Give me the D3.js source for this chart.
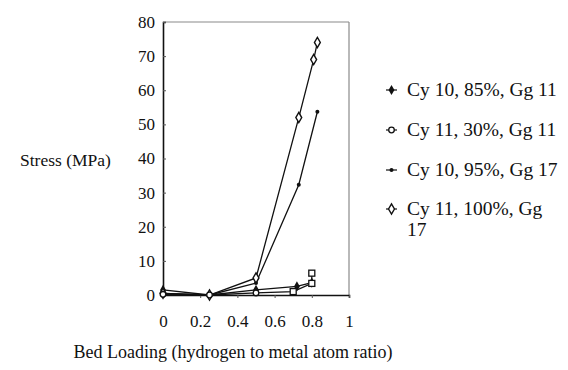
<!DOCTYPE html>
<html>
<head>
<meta charset="utf-8">
<script src="https://cdn.jsdelivr.net/npm/d3@7"></script>
<style>
  body { margin: 0; background: #fff; }
  text { font-family: "Liberation Serif", "DejaVu Serif", serif; fill: #111; }
</style>
</head>
<body>
<div class="chart"></div>
<script>
'use strict';

// values
const seriesNames = ["Cy 10, 85%, Gg 11", "Cy 11, 30%, Gg 11", "Cy 10, 95%, Gg 17", "Cy 11, 100%, Gg 17"];
const cy10_85 = [[0, 1.5], [0.25, 0], [0.5, 1.5], [0.72, 2.5], [0.80, 3.6]];
const cy11_30 = [[0, 0.2], [0.25, 0], [0.5, 0.6], [0.70, 1.0], [0.80, 3.4], [0.80, 6.4]];
const cy10_95 = [[0, 0.5], [0.25, 0], [0.5, 3.5], [0.73, 32.3], [0.83, 53.7]];
const cy11_100 = [[0, 0.5], [0.25, 0], [0.5, 5], [0.73, 52], [0.81, 69], [0.83, 74]];
const xTicks = [0, 0.2, 0.4, 0.6, 0.8, 1];
const yTicks = [0, 10, 20, 30, 40, 50, 60, 70, 80];

(function() {
    const serif = '"Liberation Serif", "DejaVu Serif", serif';
    let svg = d3.select('.chart').append('svg')
        .attr('width', 568).attr('height', 370);

    let xScale = d3.scaleLinear().domain([0, 1]).range([163, 349]);
    let yScale = d3.scaleLinear().domain([0, 80]).range([295, 22]);

    // plot frame: grey top/right, black axes
    svg.append('line')
        .attr('x1', xScale(0)).attr('x2', xScale(1))
        .attr('y1', yScale(80)).attr('y2', yScale(80))
        .attr('stroke', '#8a8a8a').attr('stroke-width', 1.2);
    svg.append('line')
        .attr('x1', xScale(1)).attr('x2', xScale(1))
        .attr('y1', yScale(80)).attr('y2', yScale(0))
        .attr('stroke', '#8a8a8a').attr('stroke-width', 1.2);

    let xAxis = d3.axisBottom(xScale).tickValues(xTicks).tickSize(3).tickFormat(d3.format('~g'));
    let gx = svg.append('g').attr('transform', 'translate(0,' + yScale(0) + ')').call(xAxis);
    let yAxis = d3.axisLeft(yScale).tickValues(yTicks).tickSize(-3).tickFormat(d3.format('d'));
    let gy = svg.append('g').attr('transform', 'translate(' + xScale(0) + ',0)').call(yAxis);

    [gx, gy].forEach(g => {
        g.attr('font-family', serif).attr('font-size', 17);
        g.select('.domain').attr('stroke', '#111').attr('stroke-width', 1.6);
        g.selectAll('.tick line').attr('stroke', '#555');
        g.selectAll('.tick text').attr('fill', '#111');
    });
    gx.selectAll('.tick text').attr('dy', '1.55em');
    gy.selectAll('.tick text').attr('x', -8);

    let line = d3.line().x(d => xScale(d[0])).y(d => yScale(d[1]));
    let all = [cy10_85, cy11_30, cy10_95, cy11_100];
    all.forEach(s => {
        svg.append('path').attr('d', line(s))
            .attr('fill', 'none').attr('stroke', '#111').attr('stroke-width', 1.3);
    });

    function marker(g, kind, x, y) {
        if (kind === 0) {
            g.append('path').attr('d', d3.symbol(d3.symbolDiamond, 30)())
                .attr('transform', 'translate(' + x + ',' + y + ')').attr('fill', '#111');
        } else if (kind === 1) {
            g.append('circle').attr('cx', x).attr('cy', y).attr('r', 2.8)
                .attr('fill', '#fff').attr('stroke', '#111').attr('stroke-width', 1.3);
        } else if (kind === 'sq') {
            g.append('rect').attr('x', x - 3).attr('y', y - 3).attr('width', 6).attr('height', 6)
                .attr('fill', '#fff').attr('stroke', '#111').attr('stroke-width', 1.3);
        } else if (kind === 2) {
            g.append('circle').attr('cx', x).attr('cy', y).attr('r', 2).attr('fill', '#111');
        } else {
            g.append('path').attr('d', d3.symbol(d3.symbolDiamond, 30)())
                .attr('transform', 'translate(' + x + ',' + y + ')')
                .attr('fill', '#fff').attr('stroke', '#111').attr('stroke-width', 1.4);
        }
    }

    let marks = svg.append('g');
    cy10_85.forEach(d => marker(marks, 0, xScale(d[0]), yScale(d[1])));
    cy10_95.forEach(d => marker(marks, 2, xScale(d[0]), yScale(d[1])));
    cy11_100.forEach(d => marker(marks, 3, xScale(d[0]), yScale(d[1])));
    cy11_30.forEach(d => marker(marks, d[0] >= 0.7 ? 'sq' : 1, xScale(d[0]), yScale(d[1])));

    // legend
    let legY = [90, 130, 170, 209];
    let leg = svg.append('g').attr('font-family', serif).attr('font-size', 19.5);
    seriesNames.forEach((name, i) => {
        leg.append('line').attr('x1', 386).attr('x2', 397)
            .attr('y1', legY[i]).attr('y2', legY[i]).attr('stroke', '#111').attr('stroke-width', 1.2);
        marker(leg, i, 391.5, legY[i]);
        let t = leg.append('text').attr('x', 407).attr('y', legY[i] + 6);
        if (i === 3) {
            t.text('Cy 11, 100%, Gg');
            leg.append('text').attr('x', 407).attr('y', legY[i] + 27).text('17');
        } else {
            t.text(name);
        }
    });

    svg.append('text').attr('x', 20).attr('y', 166)
        .attr('font-family', serif).attr('font-size', 17.5).text('Stress (MPa)');
    svg.append('text').attr('x', 233).attr('y', 358).attr('text-anchor', 'middle')
        .attr('font-family', serif).attr('font-size', 18).text('Bed Loading (hydrogen to metal atom ratio)');
})();
</script>
</body>
</html>
